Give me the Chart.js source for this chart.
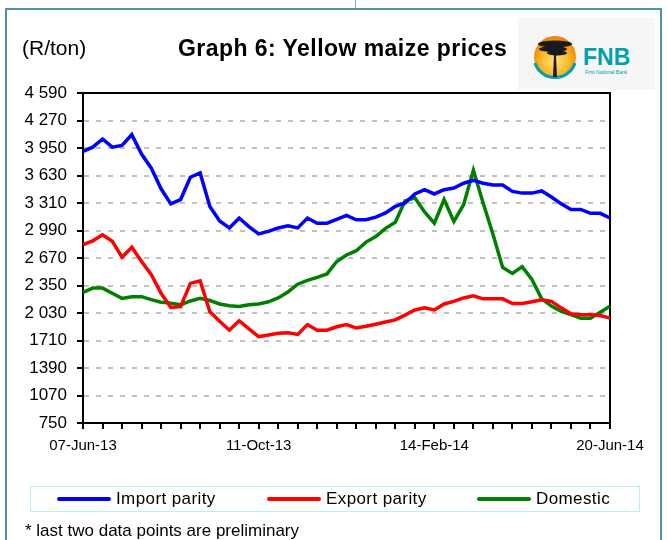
<!DOCTYPE html>
<html>
<head>
<meta charset="utf-8">
<script src="https://cdn.jsdelivr.net/npm/chart.js@4.4.0/dist/chart.umd.min.js"></script>
<style>
  body { margin: 0; background: #fff; font-family: "Liberation Sans", Arial, sans-serif; }
  #wrap { position: relative; width: 667px; height: 540px; overflow: hidden; background: #fff; }
  .frame { position: absolute; left: 5px; top: 8px; width: 657px; height: 560px; border: 2px solid #4a93ab; box-sizing: border-box; }
  .topmark { position: absolute; left: 355px; top: 0; width: 1px; height: 8px; background: #9ab; }
  #c { position: absolute; left: 0; top: 0; }
  .unit { position: absolute; left: 22px; top: 36px; font-size: 21px; color: #000; }
  .title { position: absolute; left: 178px; top: 35px; font-size: 23px; font-weight: bold; color: #000; letter-spacing: 0.45px; }
  .logo { position: absolute; left: 518px; top: 18px; }
  .legend { position: absolute; left: 30px; top: 486px; width: 610px; height: 26px; border: 1px solid #b4f0f6; box-sizing: border-box; }
  .leg { position: absolute; top: 2px; font-size: 17px; letter-spacing: 0.4px; line-height: 20px; white-space: nowrap; }
  .leg i { display: inline-block; width: 54px; height: 4px; border-radius: 2px; vertical-align: middle; margin-right: 5px; position: relative; top: -1px; }
  .note { position: absolute; left: 25px; top: 521px; font-size: 17px; white-space: nowrap; }
</style>
</head>
<body>
<div id="wrap">
  <div class="topmark"></div>
  <div class="frame"></div>
  <canvas id="c" width="667" height="540"></canvas>
  <div class="unit">(R/ton)</div>
  <div class="title">Graph 6: Yellow maize prices</div>
  <svg class="logo" width="137" height="72" viewBox="0 0 137 72">
    <defs>
      <radialGradient id="sun" cx="50%" cy="60%" r="60%">
        <stop offset="0%" stop-color="#ffe27a"/>
        <stop offset="55%" stop-color="#fbb829"/>
        <stop offset="100%" stop-color="#ef7d00"/>
      </radialGradient>
    </defs>
    <rect x="0" y="0" width="137" height="72" fill="#f6f6f6"/>
    <circle cx="37" cy="39" r="21" fill="url(#sun)"/>
    <path d="M 17 45 A 21 21 0 0 0 57 45" fill="none" stroke="#00a0b0" stroke-width="3"/>
    <ellipse cx="37" cy="26" rx="17" ry="3.5" fill="#1a1a1a"/>
    <ellipse cx="35" cy="31" rx="14" ry="3" fill="#1a1a1a"/>
    <ellipse cx="39" cy="35" rx="10" ry="2.5" fill="#1a1a1a"/>
    <path d="M 35 59 L 36 37 L 29 31 L 31 30 L 37 35 L 43 29 L 45 30 L 38 38 L 39 59 Z" fill="#1a1a1a"/>
    <text x="65" y="47" font-family="Liberation Sans, Arial, sans-serif" font-weight="bold" font-size="23" fill="#00a0b0">FNB</text>
    <text x="67" y="56" font-family="Liberation Sans, Arial, sans-serif" font-size="5" fill="#00a0b0">First National Bank</text>
  </svg>
  <div class="legend">
    <div class="leg" style="left:26px"><i style="background:#0000ff"></i>Import parity</div>
    <div class="leg" style="left:236px"><i style="background:#ff0000"></i>Export parity</div>
    <div class="leg" style="left:446px"><i style="background:#008000"></i>Domestic</div>
  </div>
  <div class="note">* last two data points are preliminary</div>
</div>
<script>
// weekly categories, 07-Jun-13 .. 20-Jun-14
const months = ['Jan','Feb','Mar','Apr','May','Jun','Jul','Aug','Sep','Oct','Nov','Dec'];
const weeks = [];
for (let d = new Date(Date.UTC(2013, 5, 7)); d <= new Date(Date.UTC(2014, 5, 20)); d.setUTCDate(d.getUTCDate() + 7)) {
  weeks.push(String(d.getUTCDate()).padStart(2, '0') + '-' + months[d.getUTCMonth()] + '-' + String(d.getUTCFullYear()).slice(2));
}
const shownLabels = ['07-Jun-13', '11-Oct-13', '14-Feb-14', '20-Jun-14'];

const importParity = [3910,3960,4055,3960,3980,4105,3880,3715,3475,3300,3350,3610,3660,3270,
  3100,3020,3135,3035,2950,2980,3020,3045,3020,3135,3075,3075,3120,3165,
  3115,3115,3145,3195,3270,3310,3415,3465,3415,3465,3485,3540,3575,
  3540,3520,3520,3445,3425,3425,3450,3380,3300,3235,3235,3190,3190,3135];
const exportParity = [2825,2870,2940,2865,2680,2795,2630,2475,2260,2095,2105,2375,2405,2045,
  1935,1830,1940,1845,1755,1775,1795,1800,1780,1895,1830,1830,1870,1895,
  1855,1875,1900,1925,1950,2005,2065,2090,2065,2135,2165,2205,2230,
  2195,2195,2195,2140,2140,2160,2185,2165,2090,2020,2010,2010,2000,1970];
const domestic = [2270,2320,2320,2260,2200,2220,2220,2185,2155,2145,2125,2170,2200,2175,
  2135,2115,2105,2125,2135,2160,2205,2275,2365,2410,2445,2485,2630,2705,
  2755,2855,2920,3015,3085,3335,3370,3205,3075,3350,3095,3290,3690,
  3310,2950,2560,2490,2570,2420,2195,2110,2050,2010,1970,1970,2040,2110];

const yTickLabels = ['750','1070','1390','1710','2 030','2 350','2 670','2 990','3 310','3 630','3 950','4 270','4 590'];

// black box round the plot area
const plotBox = {
  id: 'plotBox',
  beforeDatasetsDraw(chart) {
    const { ctx, chartArea: a } = chart;
    ctx.save();
    ctx.strokeStyle = '#000';
    ctx.lineWidth = 2;
    ctx.strokeRect(a.left, a.top, a.right - a.left, a.bottom - a.top);
    ctx.restore();
  }
};

const line = (label, data, color) => ({
  label, data, borderColor: color, backgroundColor: color,
  borderWidth: 3.5, pointRadius: 0, tension: 0, fill: false
});

new Chart(document.getElementById('c'), {
  type: 'line',
  data: {
    labels: weeks,
    datasets: [
      line('Import parity', importParity, '#0000ff'),
      line('Export parity', exportParity, '#ff0000'),
      line('Domestic', domestic, '#008000')
    ]
  },
  options: {
    responsive: false,
    animation: false,
    layout: { padding: { top: 93, right: 57, left: 0, bottom: 0 } },
    plugins: { legend: { display: false }, tooltip: { enabled: false } },
    scales: {
      x: {
        offset: false,
        afterFit: s => { s.height = 117; },
        border: { display: true, color: '#000', width: 2 },
        grid: {
          drawOnChartArea: false,
          tickLength: 6,
          lineWidth: 2,
          color: c => c.index % 2 === 0 ? '#000' : 'rgba(0,0,0,0)',
          tickColor: c => c.index % 2 === 0 ? '#000' : 'rgba(0,0,0,0)'
        },
        ticks: {
          autoSkip: false, maxRotation: 0, minRotation: 0, padding: 8,
          color: '#000', font: { family: 'Liberation Sans', size: 15 },
          callback: function (v) { const l = this.getLabelForValue(v); return shownLabels.includes(l) ? l : ''; }
        }
      },
      y: {
        min: 750, max: 4590,
        afterFit: s => { s.width = 83; },
        border: { display: true, color: '#000', width: 2, dash: [5, 7] },
        grid: { color: '#c0c0c0', lineWidth: 2, tickColor: '#000', tickLength: 6, tickWidth: 2 },
        ticks: {
          stepSize: 320, padding: 10, color: '#000',
          font: { family: 'Liberation Sans', size: 17 },
          callback: (v, i) => yTickLabels[i]
        }
      }
    }
  },
  plugins: [plotBox]
});
</script>
</body>
</html>
